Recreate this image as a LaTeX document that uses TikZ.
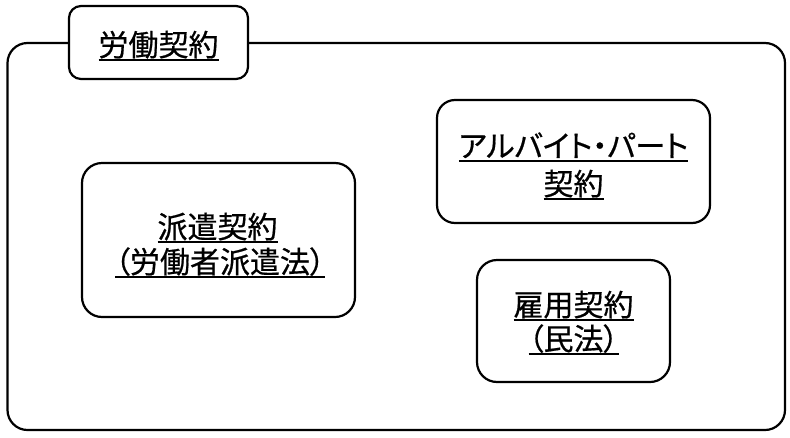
\documentclass[tikz,border=0pt]{standalone}
\usepackage{fontspec}
\newfontfamily\jp[FakeBold=0.6]{Noto Sans CJK JP}
\newfontfamily\jpp[RawFeature=+palt,FakeBold=0.6]{Noto Sans CJK JP}
\newcommand\ulx[1]{\setbox0\hbox{#1}\leavevmode\rlap{\rule[-4.5pt]{\wd0}{2pt}}\box0}
\tikzset{
  boxst/.style={draw=black, line width=2.2pt, fill=white, inner sep=0pt},
  lbl/.style={inner sep=0pt, anchor=base, font=\jp\fontsize{30pt}{36pt}\selectfont}
}
\begin{document}
\begin{tikzpicture}[x=1pt,y=-1pt]
\useasboundingbox[fill=white] (0,0) rectangle (790,437);
% outer frame
\node[boxst, rounded corners=20pt, minimum width=777.5pt, minimum height=387pt] (outer) at (396.25,236.5) {};
% title box
\node[boxst, rounded corners=12pt, minimum width=179pt, minimum height=73pt] (title) at (158.5,42.5) {};
\node[lbl] (titletxt) at (158.5,56) {\ulx{労働契約}};
% arubaito box
\node[boxst, rounded corners=18pt, minimum width=273pt, minimum height=123pt] (arubaito) at (573.5,161.5) {};
\node[lbl] (arubaitoA) at (573.5,157) {\ulx{\jpp アルバイト・パート}};
\node[lbl] (arubaitoB) at (573.5,195) {\ulx{契約}};
% haken box
\node[boxst, rounded corners=20pt, minimum width=273pt, minimum height=154pt] (haken) at (218.5,240) {};
\node[lbl] (hakenA) at (217.5,238) {\ulx{派遣契約}};
\node[lbl] (hakenB) at (220,273) {\ulx{\jpp （労働者派遣法）}};
% koyo box
\node[boxst, rounded corners=20pt, minimum width=193pt, minimum height=122pt] (koyo) at (573.5,321) {};
\node[lbl] (koyoA) at (573.5,316) {\ulx{雇用契約}};
\node[lbl] (koyoB) at (573.5,350) {\ulx{\jpp （民法）}};
\end{tikzpicture}
\end{document}
